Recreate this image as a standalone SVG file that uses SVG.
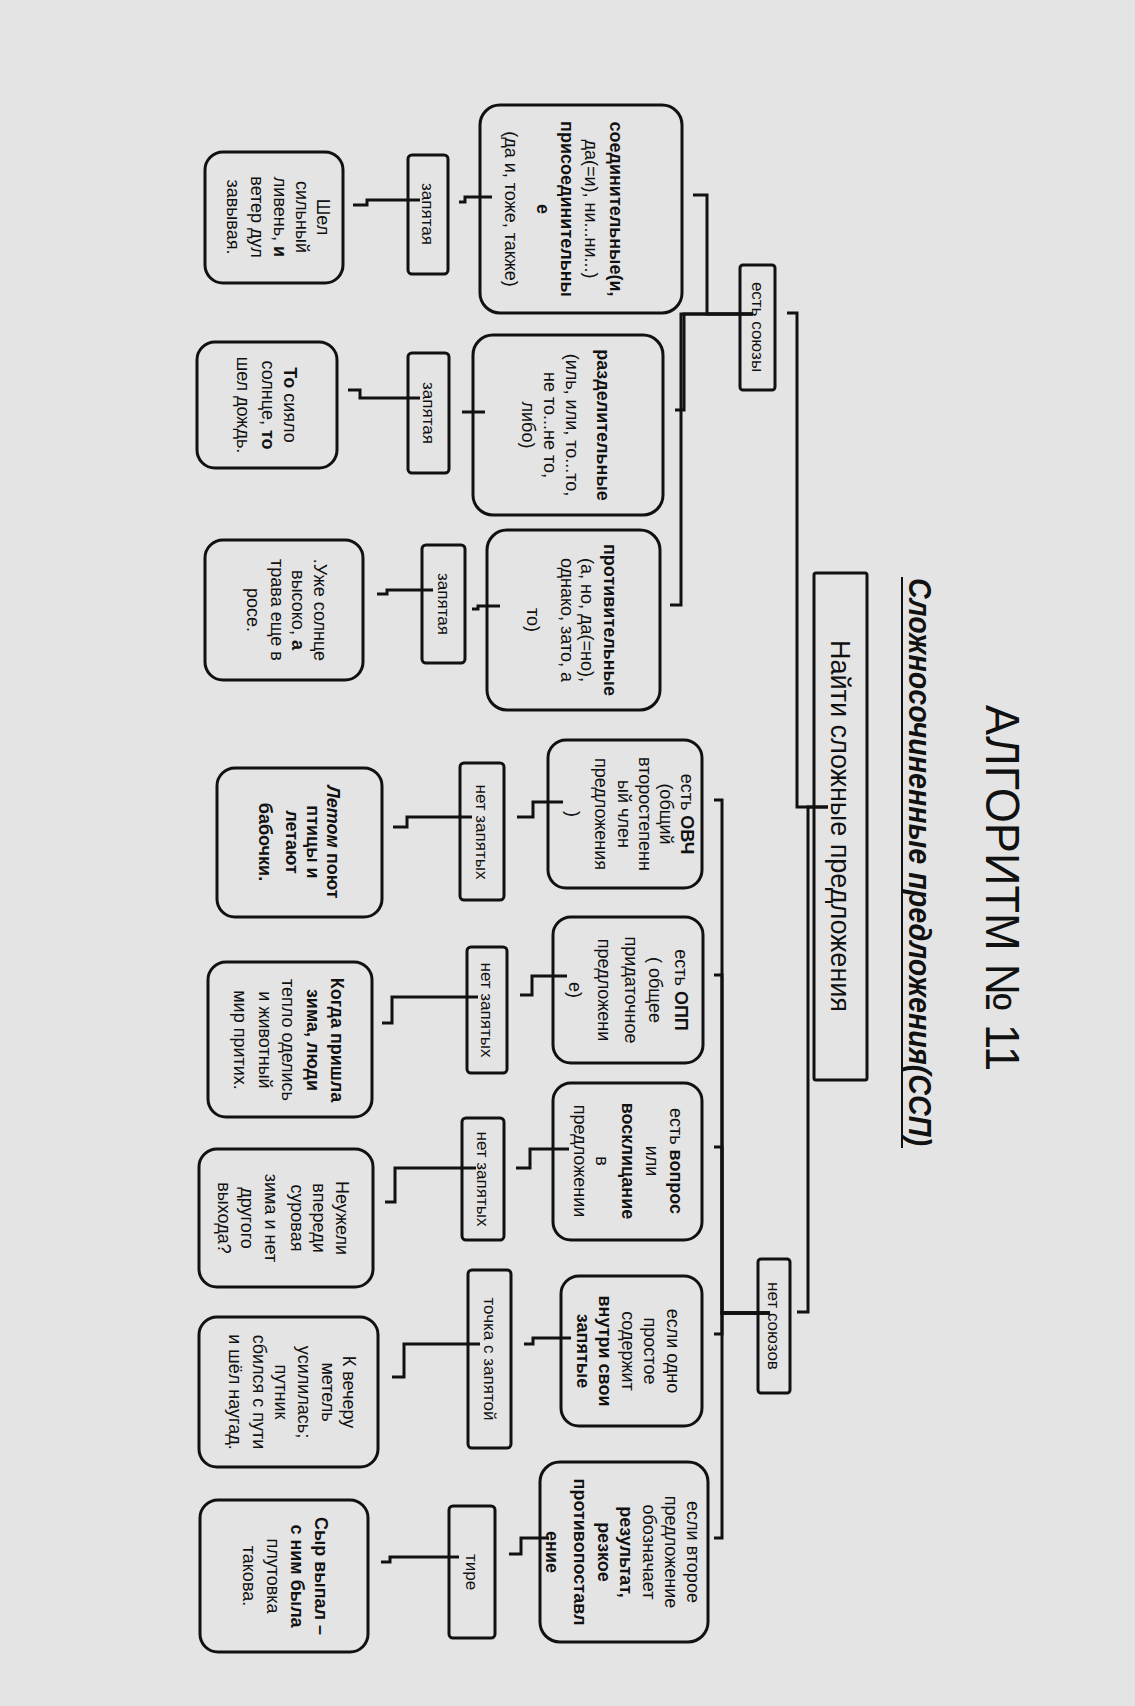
<svg xmlns="http://www.w3.org/2000/svg" width="1135" height="1706" viewBox="0 0 1135 1706">
<style>
.bx{fill:none;stroke:#111;stroke-width:3}
.lb{fill:none;stroke:#111;stroke-width:3}
.t{font-family:"Liberation Sans",Arial,sans-serif;font-size:18px;fill:#111;text-anchor:middle}
.s{font-size:17px}
.b{font-weight:bold}
.i{font-style:italic}
.c{fill:none;stroke:#111;stroke-width:3;stroke-linejoin:miter}
</style>
<rect width="1135" height="1706" fill="#e4e4e4"/>
<g transform="translate(1135,0) rotate(90)">
  <g id="title">
    <text class="t" x="888" y="149" style="font-size:48px" textLength="366" lengthAdjust="spacingAndGlyphs">АЛГОРИТМ № 11</text>
    <text class="t b i" x="862" y="226" style="font-size:32px" textLength="568" lengthAdjust="spacingAndGlyphs">Сложносочиненные предложения(ССП)</text>
    <line x1="577" y1="233" x2="1148" y2="233" stroke="#111" stroke-width="2"/>
  </g>
  <g id="n-find">
    <rect class="bx" x="573" y="268" width="507" height="53" rx="2"/>
    <text class="t" x="826" y="304" style="font-size:27px">Найти сложные предложения</text>
  </g>
  <g id="n-est-soyuzy">
    <rect class="lb" x="265" y="360" width="125" height="35" rx="3"/>
    <text class="t s" x="327" y="383">есть союзы</text>
  </g>
  <g id="n-net-soyuzov">
    <rect class="lb" x="1259" y="345" width="134" height="32" rx="3"/>
    <text class="t s" x="1326" y="367">нет союзов</text>
  </g>

  <g id="n-soed">
    <rect class="bx" x="105" y="453" width="208" height="202" rx="20"/>
    <text class="t b" x="209" y="525">соединительные(и,</text>
    <text class="t" x="209" y="550">да(=и), ни...ни...)</text>
    <text class="t b" x="209" y="574">присоединительны</text>
    <text class="t b" x="209" y="598">е</text>
    <text class="t" x="209" y="630">(да и, тоже, также)</text>
  </g>
  <g id="n-zap1">
    <rect class="lb" x="155" y="687" width="119" height="40" rx="4"/>
    <text class="t s" x="214" y="713">запятая</text>
  </g>
  <g id="n-ex1">
    <rect class="bx" x="152" y="792" width="131" height="138" rx="18"/>
    <text class="t" x="217" y="818">Шел</text>
    <text class="t" x="217" y="839">сильный</text>
    <text class="t" x="217" y="861">ливень, <tspan class="b">и</tspan></text>
    <text class="t" x="217" y="884">ветер дул</text>
    <text class="t" x="217" y="908">завывая.</text>
  </g>

  <g id="n-razd">
    <rect class="bx" x="335" y="472" width="180" height="190" rx="20"/>
    <text class="t b" x="425" y="538">разделительные</text>
    <text class="t" x="425" y="569">(иль, или, то...то,</text>
    <text class="t" x="425" y="591">не то...не то,</text>
    <text class="t" x="425" y="613">либо)</text>
  </g>
  <g id="n-zap2">
    <rect class="lb" x="353" y="686" width="120" height="41" rx="4"/>
    <text class="t s" x="413" y="712">запятая</text>
  </g>
  <g id="n-ex2">
    <rect class="bx" x="342" y="798" width="126" height="140" rx="18"/>
    <text class="t" x="405" y="851"><tspan class="b">То</tspan> сияло</text>
    <text class="t" x="405" y="873">солнце, <tspan class="b">то</tspan></text>
    <text class="t" x="405" y="898">шел дождь.</text>
  </g>

  <g id="n-prot">
    <rect class="bx" x="530" y="475" width="180" height="173" rx="20"/>
    <text class="t b" x="620" y="531">противительные</text>
    <text class="t" x="620" y="554">(а, но, да(=но),</text>
    <text class="t" x="620" y="574">однако, зато, а</text>
    <text class="t" x="620" y="608">то)</text>
  </g>
  <g id="n-zap3">
    <rect class="lb" x="545" y="670" width="118" height="43" rx="4"/>
    <text class="t s" x="604" y="697">запятая</text>
  </g>
  <g id="n-ex3">
    <rect class="bx" x="540" y="772" width="140" height="158" rx="18"/>
    <text class="t" x="610" y="821">.Уже солнце</text>
    <text class="t" x="610" y="843">высоко, <tspan class="b">а</tspan></text>
    <text class="t" x="610" y="864">трава еще в</text>
    <text class="t" x="610" y="888">росе.</text>
  </g>

  <g id="n-ovch">
    <rect class="bx" x="740" y="433" width="148" height="154" rx="18"/>
    <text class="t" x="814" y="454">есть <tspan class="b">ОВЧ</tspan></text>
    <text class="t" x="814" y="475">(общий</text>
    <text class="t" x="814" y="496">второстепенн</text>
    <text class="t" x="814" y="517">ый член</text>
    <text class="t" x="814" y="540">предложения</text>
    <text class="t" x="814" y="568">)</text>
  </g>
  <g id="n-net1">
    <rect class="lb" x="763" y="631" width="137" height="44" rx="4"/>
    <text class="t s" x="832" y="659">нет запятых</text>
  </g>
  <g id="n-ex-ovch">
    <rect class="bx" x="768" y="753" width="149" height="165" rx="18"/>
    <text class="t b" x="842" y="808"><tspan class="i">Летом</tspan> поют</text>
    <text class="t b" x="842" y="828">птицы и</text>
    <text class="t b" x="842" y="849">летают</text>
    <text class="t b" x="842" y="876">бабочки.</text>
  </g>

  <g id="n-opp">
    <rect class="bx" x="917" y="432" width="146" height="150" rx="18"/>
    <text class="t" x="990" y="460">есть <tspan class="b">ОПП</tspan></text>
    <text class="t" x="990" y="486">( общее</text>
    <text class="t" x="990" y="510">придаточное</text>
    <text class="t" x="990" y="537">предложени</text>
    <text class="t" x="990" y="566">е)</text>
  </g>
  <g id="n-net2">
    <rect class="lb" x="947" y="628" width="126" height="40" rx="4"/>
    <text class="t s" x="1010" y="654">нет запятых</text>
  </g>
  <g id="n-ex-opp">
    <rect class="bx" x="962" y="763" width="155" height="164" rx="18"/>
    <text class="t b" x="1040" y="804">Когда пришла</text>
    <text class="t b" x="1040" y="828">зима, люди</text>
    <text class="t" x="1040" y="853">тепло оделись</text>
    <text class="t" x="1040" y="876">и животный</text>
    <text class="t" x="1040" y="901">мир притих.</text>
  </g>

  <g id="n-vopros">
    <rect class="bx" x="1083" y="433" width="157" height="149" rx="18"/>
    <text class="t" x="1161" y="465">есть <tspan class="b">вопрос</tspan></text>
    <text class="t" x="1161" y="489">или</text>
    <text class="t b" x="1161" y="513">восклицание</text>
    <text class="t" x="1161" y="539">в</text>
    <text class="t" x="1161" y="561">предложении</text>
  </g>
  <g id="n-net3">
    <rect class="lb" x="1118" y="631" width="122" height="42" rx="4"/>
    <text class="t s" x="1179" y="658">нет запятых</text>
  </g>
  <g id="n-ex-vopros">
    <rect class="bx" x="1149" y="762" width="138" height="174" rx="18"/>
    <text class="t" x="1218" y="799">Неужели</text>
    <text class="t" x="1218" y="822">впереди</text>
    <text class="t" x="1218" y="844">суровая</text>
    <text class="t" x="1218" y="870">зима и нет</text>
    <text class="t" x="1218" y="894">другого</text>
    <text class="t" x="1218" y="917">выхода?</text>
  </g>

  <g id="n-prostoe">
    <rect class="bx" x="1276" y="433" width="150" height="141" rx="18"/>
    <text class="t" x="1351" y="468">если одно</text>
    <text class="t" x="1351" y="491">простое</text>
    <text class="t" x="1351" y="513">содержит</text>
    <text class="t b" x="1351" y="536">внутри свои</text>
    <text class="t b" x="1351" y="558">запятые</text>
  </g>
  <g id="n-tochka">
    <rect class="lb" x="1270" y="624" width="178" height="43" rx="4"/>
    <text class="t s" x="1359" y="651">точка с запятой</text>
  </g>
  <g id="n-ex-prostoe">
    <rect class="bx" x="1317" y="757" width="150" height="179" rx="18"/>
    <text class="t" x="1392" y="792">К вечеру</text>
    <text class="t" x="1392" y="813">метель</text>
    <text class="t" x="1392" y="837">усилилась;</text>
    <text class="t" x="1392" y="860">путник</text>
    <text class="t" x="1392" y="882">сбился с пути</text>
    <text class="t" x="1392" y="906">и шёл наугад.</text>
  </g>

  <g id="n-vtoroe">
    <rect class="bx" x="1462" y="427" width="180" height="168" rx="20"/>
    <text class="t" x="1552" y="448">если второе</text>
    <text class="t" x="1552" y="470">предложение</text>
    <text class="t" x="1552" y="492">обозначает</text>
    <text class="t b" x="1552" y="515">результат,</text>
    <text class="t b" x="1552" y="537">резкое</text>
    <text class="t b" x="1552" y="561">противопоставл</text>
    <text class="t b" x="1552" y="589">ение</text>
  </g>
  <g id="n-tire">
    <rect class="lb" x="1506" y="640" width="132" height="46" rx="4"/>
    <text class="t s" x="1572" y="669">тире</text>
  </g>
  <g id="n-ex-vtoroe">
    <rect class="bx" x="1500" y="767" width="152" height="168" rx="18"/>
    <text class="t b" x="1576" y="820">Сыр выпал –</text>
    <text class="t b" x="1576" y="844">с ним была</text>
    <text class="t" x="1576" y="868">плутовка</text>
    <text class="t" x="1576" y="892">такова.</text>
  </g>

  <g id="connectors">
    <path class="c" d="M807,307 L807,338 L313,338 L313,348"/>
    <path class="c" d="M807,307 L807,327 L1312,327 L1312,338"/>
    <path class="c" d="M314,382 L314,428 L195,428 L195,442"/>
    <path class="c" d="M314,382 L314,451 L410,451 L410,460"/>
    <path class="c" d="M314,382 L314,454 L605,454 L605,465"/>
    <path class="c" d="M197,643 L197,670 L202,670 L202,676"/>
    <path class="c" d="M200,715 L200,768 L205,768 L205,782"/>
    <path class="c" d="M412,650 L412,673"/>
    <path class="c" d="M398,715 L398,775 L390,775 L390,787"/>
    <path class="c" d="M606,635 L606,657 L609,657 L609,663"/>
    <path class="c" d="M590,702 L590,748 L594,748 L594,758"/>
    <path class="c" d="M1313,365 L1313,413 L800,413 L800,421"/>
    <path class="c" d="M1313,365 L1313,413 L975,413 L975,421"/>
    <path class="c" d="M1313,365 L1313,413 L1147,413 L1147,421"/>
    <path class="c" d="M1313,365 L1313,413 L1334,413 L1334,421"/>
    <path class="c" d="M1313,365 L1313,413 L1538,413 L1538,421"/>
    <path class="c" d="M802,572 L802,602 L817,602 L817,618"/>
    <path class="c" d="M817,663 L817,728 L827,728 L827,742"/>
    <path class="c" d="M976,568 L976,603 L995,603 L995,615"/>
    <path class="c" d="M997,657 L997,743 L1023,743 L1023,753"/>
    <path class="c" d="M1149,566 L1149,605 L1168,605 L1168,619"/>
    <path class="c" d="M1168,659 L1168,740 L1202,740 L1202,750"/>
    <path class="c" d="M1338,564 L1338,602 L1344,602 L1344,611"/>
    <path class="c" d="M1344,655 L1344,731 L1377,731 L1377,743"/>
    <path class="c" d="M1538,586 L1538,614 L1554,614 L1554,626"/>
    <path class="c" d="M1557,676 L1557,745 L1562,745 L1562,754"/>
  </g>
</g>
</svg>
